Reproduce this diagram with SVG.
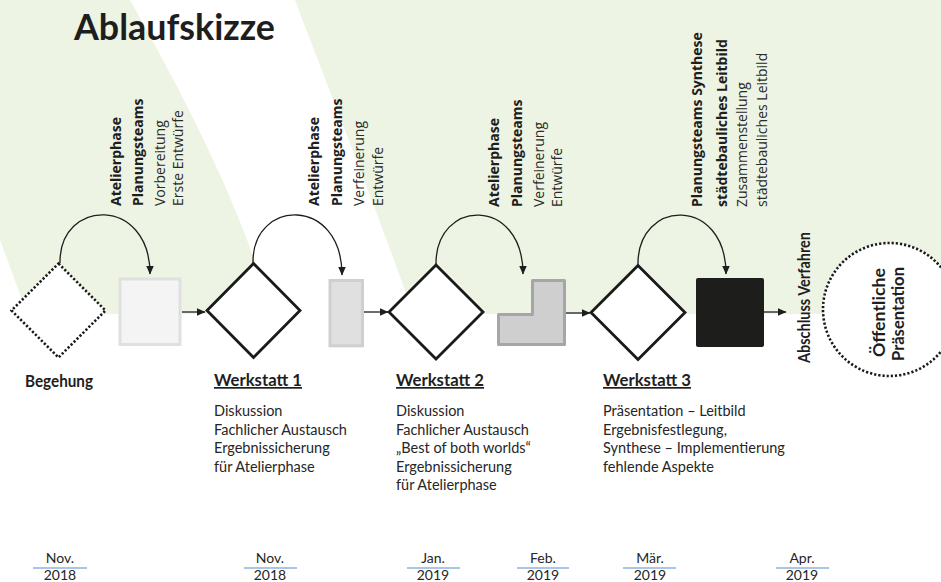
<svg xmlns="http://www.w3.org/2000/svg" width="941" height="582" viewBox="0 0 941 582">
<defs>
<style>
.rb{font-family:"Open Sans","Noto Sans",sans-serif;font-weight:bold;font-size:14px;fill:#1e1e1e}
.rr{font-family:"Open Sans","Noto Sans",sans-serif;font-size:14px;fill:#2a2a2a}
.bd{font-family:Lato,"Open Sans",sans-serif;font-size:14.5px;fill:#262626}
.hd{font-family:Lato,"Open Sans",sans-serif;font-weight:bold;font-size:17px;fill:#1e1e1e}
.dt{font-family:Lato,"Open Sans",sans-serif;font-size:14px;fill:#262626;text-anchor:middle}
.dia{fill:#fff;stroke:#1a1a1a;stroke-width:2.8}
.dot{fill:#fff;stroke:#1a1a1a;stroke-width:2.6;stroke-dasharray:2.2 2}
.con{fill:none;stroke:#1e1e1e;stroke-width:1.3}
.dl{stroke:#8db3e2;stroke-width:1.6}
</style>
<marker id="ah" markerWidth="9" markerHeight="8" refX="8.5" refY="4" orient="auto" markerUnits="userSpaceOnUse">
<path d="M0,0 L9,4 L0,8 z" fill="#1e1e1e"/>
</marker>
</defs>

<g id="background">
<rect x="0" y="0" width="941" height="314" fill="#edf4e3"/>
<path d="M130,0 C175,80 240,200 272,314 L413,314 C385,230 325,80 295,0 Z" fill="#fff"/>
<path d="M0,240 Q15,280 27,314 L0,314 Z" fill="#fff"/>
</g>

<g id="title">
<text x="74" y="40" font-family="Lato,'Open Sans',sans-serif" font-weight="bold" font-size="37" fill="#1e1e1e" textLength="201" lengthAdjust="spacingAndGlyphs">Ablaufskizze</text>
</g>

<g id="connectors">
<path class="con" d="M60,263 C59,198 150,196 150,274" marker-end="url(#ah)"/>
<path class="con" d="M253,263 C252,198 342,196 342,275" marker-end="url(#ah)"/>
<path class="con" d="M436,265 C435,198 523,196 523,274" marker-end="url(#ah)"/>
<path class="con" d="M638,265 C637,198 726,196 726,274" marker-end="url(#ah)"/>
<line class="con" x1="182" y1="312" x2="205" y2="312" marker-end="url(#ah)"/>
<line class="con" x1="364" y1="312" x2="388" y2="312" marker-end="url(#ah)"/>
<line class="con" x1="566" y1="313" x2="590" y2="313" marker-end="url(#ah)"/>
<line class="con" x1="764" y1="312" x2="786" y2="312" marker-end="url(#ah)"/>
</g>

<g id="begehung">
<polygon class="dot" points="58.5,263.5 105.5,310.5 58.5,357.5 11.5,310.5"/>
<text class="hd" x="25" y="387" font-size="15.5" textLength="68" lengthAdjust="spacingAndGlyphs">Begehung</text>
</g>

<g id="atelier1">
<rect x="120" y="279" width="60" height="65.5" fill="#f4f4f4" stroke="#e0e0e0" stroke-width="3"/>
<text class="rb" transform="translate(120.5,206) rotate(-90)">Atelierphase</text>
<text class="rb" transform="translate(143,206) rotate(-90)">Planungsteams</text>
<text class="rr" transform="translate(164.5,206) rotate(-90)">Vorbereitung</text>
<text class="rr" transform="translate(183,206) rotate(-90)">Erste Entwürfe</text>
</g>

<g id="werkstatt1">
<polygon class="dia" points="253.5,263.5 300,310.5 253.5,357.5 207,310.5"/>
<text class="hd" x="214" y="386" text-decoration="underline" textLength="88" lengthAdjust="spacingAndGlyphs">Werkstatt 1</text>
<text class="bd" x="214" y="416">Diskussion</text>
<text class="bd" x="214" y="434.6">Fachlicher Austausch</text>
<text class="bd" x="214" y="453.2">Ergebnissicherung</text>
<text class="bd" x="214" y="471.8">für Atelierphase</text>
</g>

<g id="atelier2">
<rect x="330" y="280.5" width="32.5" height="65.3" fill="#e0e0e0" stroke="#cfcfcf" stroke-width="3"/>
<text class="rb" transform="translate(318.5,206) rotate(-90)">Atelierphase</text>
<text class="rb" transform="translate(342,206) rotate(-90)">Planungsteams</text>
<text class="rr" transform="translate(364,206) rotate(-90)">Verfeinerung</text>
<text class="rr" transform="translate(382.5,206) rotate(-90)">Entwürfe</text>
</g>

<g id="werkstatt2">
<polygon class="dia" points="436,265 483,312 436,359 389,312"/>
<text class="hd" x="396" y="386" text-decoration="underline" textLength="88" lengthAdjust="spacingAndGlyphs">Werkstatt 2</text>
<text class="bd" x="396" y="416">Diskussion</text>
<text class="bd" x="396" y="434.6">Fachlicher Austausch</text>
<text class="bd" x="396" y="453.2">„Best of both worlds“</text>
<text class="bd" x="396" y="471.8">Ergebnissicherung</text>
<text class="bd" x="396" y="490.4">für Atelierphase</text>
</g>

<g id="atelier3">
<path d="M498.5,344.5 L498.5,314.5 L532.5,314.5 L532.5,280.5 L564.5,280.5 L564.5,344.5 Z" fill="#cfcfcf" stroke="#a6a6a6" stroke-width="3" stroke-linejoin="round"/>
<text class="rb" transform="translate(498.5,207) rotate(-90)">Atelierphase</text>
<text class="rb" transform="translate(522,207) rotate(-90)">Planungsteams</text>
<text class="rr" transform="translate(543.5,207) rotate(-90)">Verfeinerung</text>
<text class="rr" transform="translate(562,207) rotate(-90)">Entwürfe</text>
</g>

<g id="werkstatt3">
<polygon class="dia" points="638,265.5 685,312.5 638,359.5 591,312.5"/>
<text class="hd" x="603" y="386" text-decoration="underline" textLength="88" lengthAdjust="spacingAndGlyphs">Werkstatt 3</text>
<text class="bd" x="603" y="416">Präsentation – Leitbild</text>
<text class="bd" x="603" y="434.6">Ergebnisfestlegung,</text>
<text class="bd" x="603" y="453.2">Synthese – Implementierung</text>
<text class="bd" x="603" y="471.8">fehlende Aspekte</text>
</g>

<g id="synthese">
<rect x="696" y="278" width="68" height="69" rx="2" fill="#1d1d1b"/>
<text class="rb" transform="translate(702,207) rotate(-90)">Planungsteams Synthese</text>
<text class="rb" transform="translate(726.5,207) rotate(-90)">städtebauliches Leitbild</text>
<text class="rr" transform="translate(746.5,207) rotate(-90)">Zusammenstellung</text>
<text class="rr" transform="translate(767,207) rotate(-90)">städtebauliches Leitbild</text>
</g>

<g id="abschluss">
<text class="hd" font-size="14.5" transform="translate(810,363) rotate(-90)" textLength="131" lengthAdjust="spacingAndGlyphs">Abschluss Verfahren</text>
</g>

<g id="praesentation">
<circle class="dot" cx="889.5" cy="309.5" r="66.5"/>
<text class="hd" font-size="16" text-anchor="middle" transform="translate(885,312.5) rotate(-90)" textLength="89" lengthAdjust="spacingAndGlyphs">Öffentliche</text>
<text class="hd" font-size="16" text-anchor="middle" transform="translate(904,314) rotate(-90)" textLength="94" lengthAdjust="spacingAndGlyphs">Präsentation</text>
</g>

<g id="dates">
<text class="dt" x="60" y="563">Nov.</text><line class="dl" x1="33" y1="568" x2="87" y2="568"/><text class="dt" x="60" y="580">2018</text>
<text class="dt" x="270" y="563">Nov.</text><line class="dl" x1="244" y1="568" x2="297" y2="568"/><text class="dt" x="270" y="580">2018</text>
<text class="dt" x="433" y="563">Jan.</text><line class="dl" x1="407" y1="568" x2="460" y2="568"/><text class="dt" x="433" y="580">2019</text>
<text class="dt" x="543" y="563">Feb.</text><line class="dl" x1="517" y1="568" x2="569" y2="568"/><text class="dt" x="543" y="580">2019</text>
<text class="dt" x="650" y="563">Mär.</text><line class="dl" x1="623" y1="568" x2="676" y2="568"/><text class="dt" x="650" y="580">2019</text>
<text class="dt" x="802" y="563">Apr.</text><line class="dl" x1="776" y1="568" x2="829" y2="568"/><text class="dt" x="802" y="580">2019</text>
</g>
</svg>
